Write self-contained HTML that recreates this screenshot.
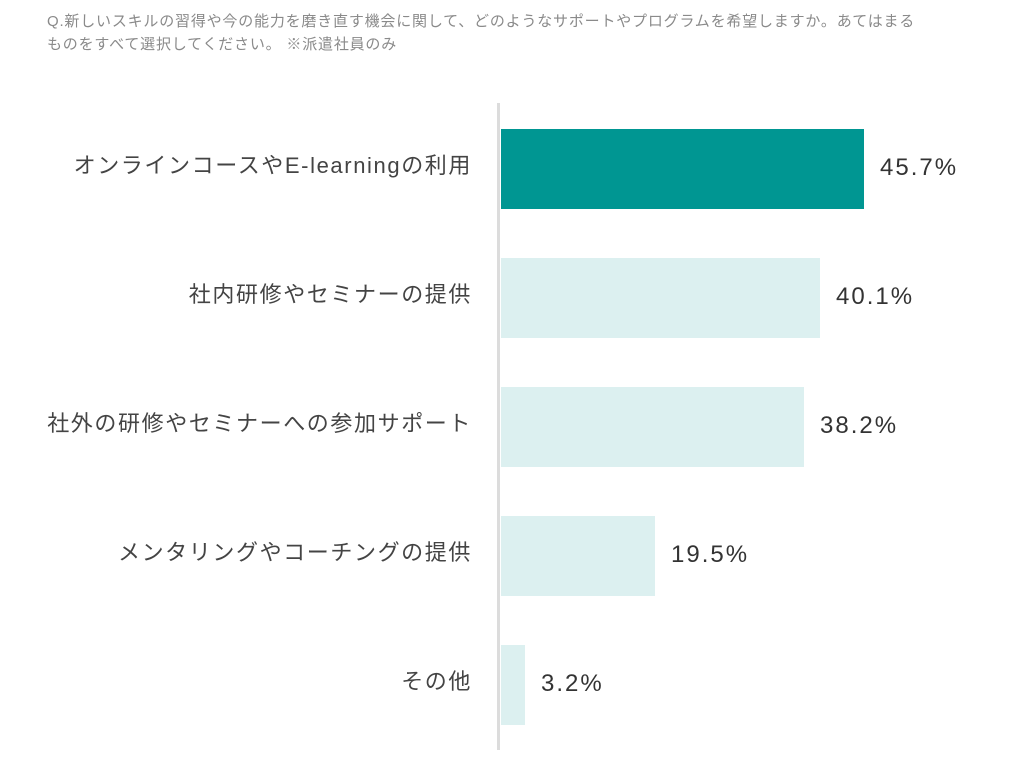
<!DOCTYPE html>
<html><head><meta charset="utf-8"><style>
body{margin:0;width:1024px;height:764px;background:#fff;position:relative;overflow:hidden;font-family:"Liberation Sans","Noto Sans CJK JP",sans-serif}
.t{position:absolute;left:47px;top:10px;font-size:15px;letter-spacing:0.8px;line-height:23px;color:#8a8a8a;width:960px}
.ax{position:absolute;left:497px;top:103px;width:3px;height:647px;background:#dcdcdc}
.b{position:absolute;left:501px;height:80px;background:#dcf0f0}
.l{position:absolute;right:552px;font-size:22px;letter-spacing:1.6px;color:#444;white-space:nowrap;line-height:26px}
.v{position:absolute;font-size:24px;letter-spacing:2px;color:#333;line-height:26px}
</style></head><body>
<div class="t">Q.新しいスキルの習得や今の能力を磨き直す機会に関して、どのようなサポートやプログラムを希望しますか。あてはまる<br>ものをすべて選択してください。 ※派遣社員のみ</div>
<div class="ax"></div>
<div class="b" style="top:129px;width:363px;background:#009692"></div>
<div class="b" style="top:258px;width:319px"></div>
<div class="b" style="top:387px;width:303px"></div>
<div class="b" style="top:516px;width:154px"></div>
<div class="b" style="top:645px;width:24px"></div>
<div class="l" style="top:153px">オンラインコースやE-learningの利用</div>
<div class="l" style="top:282px">社内研修やセミナーの提供</div>
<div class="l" style="top:411px">社外の研修やセミナーへの参加サポート</div>
<div class="l" style="top:540px">メンタリングやコーチングの提供</div>
<div class="l" style="top:669px">その他</div>
<div class="v" style="left:880px;top:155px">45.7%</div>
<div class="v" style="left:836px;top:284px">40.1%</div>
<div class="v" style="left:820px;top:413px">38.2%</div>
<div class="v" style="left:671px;top:542px">19.5%</div>
<div class="v" style="left:541px;top:671px">3.2%</div>
</body></html>
